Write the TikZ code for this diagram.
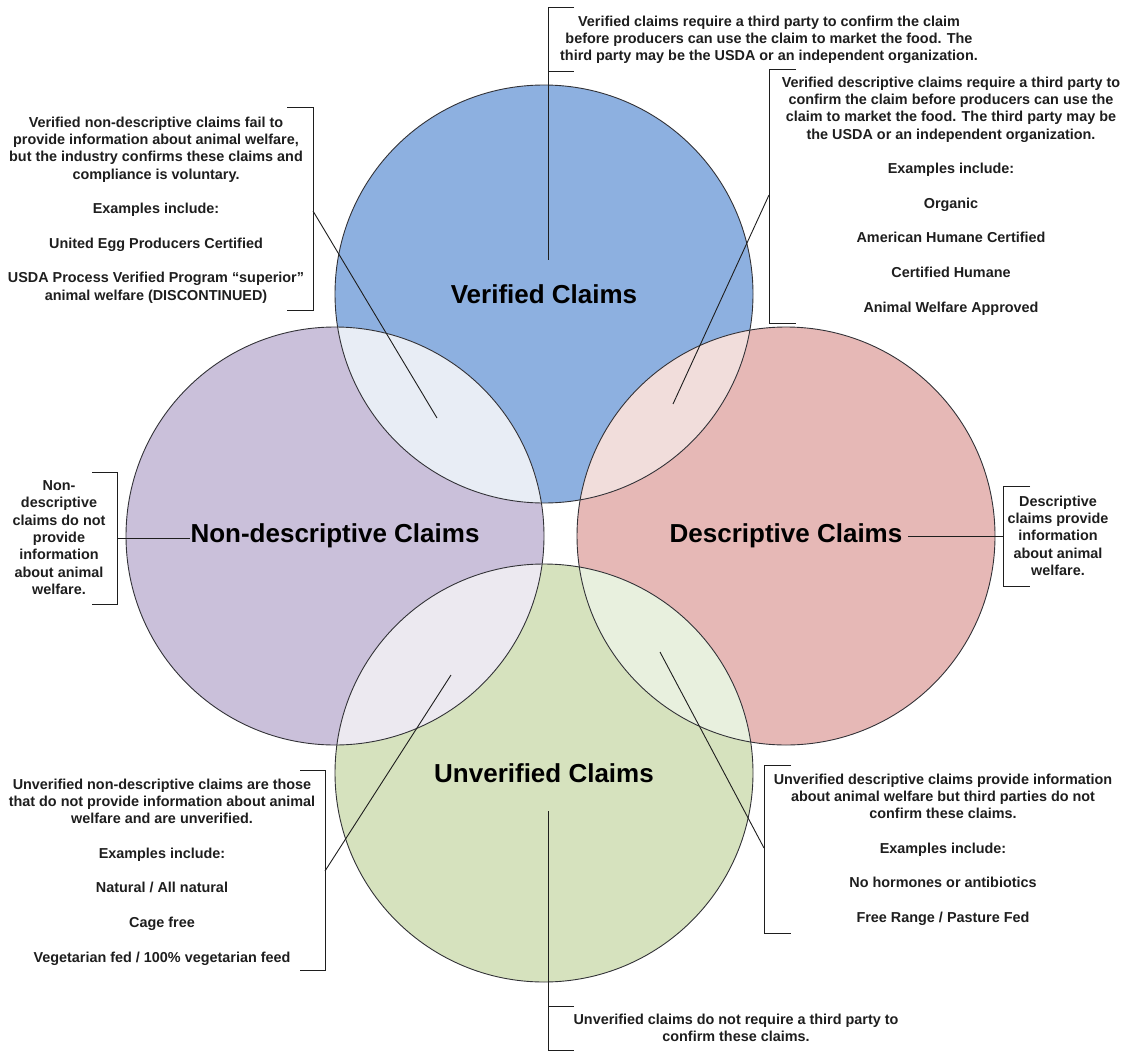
\documentclass[tikz,border=0pt]{standalone}
\usepackage{fontspec}
\setmainfont{Liberation Sans}
\usetikzlibrary{positioning}

\definecolor{vblue}{RGB}{141,176,224}
\definecolor{npurple}{RGB}{202,192,218}
\definecolor{dred}{RGB}{230,184,182}
\definecolor{ugreen}{RGB}{214,226,190}
\definecolor{vnmix}{RGB}{232,237,245}
\definecolor{vdmix}{RGB}{241,221,219}
\definecolor{unmix}{RGB}{236,233,240}
\definecolor{udmix}{RGB}{232,240,222}
\definecolor{ink}{RGB}{30,30,30}
\definecolor{rim}{RGB}{50,50,55}

\tikzset{
  note/.style={font=\bfseries\fontsize{14.4}{17.3}\selectfont,align=center,inner sep=0pt,anchor=north,text=ink},
  claimtitle/.style={font=\bfseries\fontsize{26}{30}\selectfont,inner sep=0pt,text=black},
  ring/.style={draw=rim,line width=0.9pt},
  callout/.style={draw=ink,line width=0.9pt},
}

\begin{document}
\begin{tikzpicture}[x=1pt,y=-1pt]
        \useasboundingbox (0,0) rectangle (1126,1051);
        \coordinate (vc) at (544,294);
        \coordinate (nc) at (335,536);
        \coordinate (dc) at (786,536);
        \coordinate (uc) at (544,773);
        \fill[vblue]   (vc) circle[radius=209pt];
        \fill[npurple] (nc) circle[radius=209pt];
        \fill[dred]    (dc) circle[radius=209pt];
        \fill[ugreen]  (uc) circle[radius=209pt];
        \begin{scope}
            \clip (vc) circle[radius=209pt];
            \fill[vnmix] (nc) circle[radius=209pt];
            \fill[vdmix] (dc) circle[radius=209pt];
        \end{scope}
        \begin{scope}
            \clip (uc) circle[radius=209pt];
            \fill[unmix] (nc) circle[radius=209pt];
            \fill[udmix] (dc) circle[radius=209pt];
        \end{scope}
        \foreach \c in {vc,nc,dc,uc} \draw[ring] (\c) circle[radius=209pt];
        \node[claimtitle] (vtitle) at (vc) {Verified Claims};
        \node[claimtitle] (ntitle) at (nc) {Non-descriptive Claims};
        \node[claimtitle] (dtitle) at (dc) {Descriptive Claims};
        \node[claimtitle] (utitle) at (uc) {Unverified Claims};

        \node[note] (vnote) at (769,15.5) {Verified claims require a third party to confirm the claim\\before producers can use the claim to market the food. The\\third party may be the USDA or an independent organization.};
        \node[note] (vdnote) at (951,76.5) {Verified descriptive claims require a third party to\\confirm the claim before producers can use the\\claim to market the food. The third party may be\\the USDA or an independent organization.\\[17.3pt]Examples include:\\[17.3pt]Organic\\[17.3pt]American Humane Certified\\[17.3pt]Certified Humane\\[17.3pt]Animal Welfare Approved};
        \node[note] (vndnote) at (156,116.5) {Verified non-descriptive claims fail to\\provide information about animal welfare,\\but the industry confirms these claims and\\compliance is voluntary.\\[17.3pt]Examples include:\\[17.3pt]United Egg Producers Certified\\[17.3pt]USDA Process Verified Program “superior”\\animal welfare (DISCONTINUED)};
        \node[note] (ndnote) at (59,480.5) {Non-\\descriptive\\claims do not\\provide\\information\\about animal\\welfare.};
        \node[note] (dnote) at (1058,495.5) {Descriptive\\claims provide\\information\\about animal\\welfare.};
        \node[note] (undnote) at (162,778.5) {Unverified non-descriptive claims are those\\that do not provide information about animal\\welfare and are unverified.\\[17.3pt]Examples include:\\[17.3pt]Natural / All natural\\[17.3pt]Cage free\\[17.3pt]Vegetarian fed / 100\% vegetarian feed};
        \node[note] (udnote) at (943,773.5) {Unverified descriptive claims provide information\\about animal welfare but third parties do not\\confirm these claims.\\[17.3pt]Examples include:\\[17.3pt]No hormones or antibiotics\\[17.3pt]Free Range / Pasture Fed};
        \node[note] (unote) at (736,1013.5) {Unverified claims do not require a third party to\\confirm these claims.};

        \coordinate (vbr)   at (548,71);
        \coordinate (vtip)  at (548,260);
        \coordinate (vdbr)  at (769,195);
        \coordinate (vdtip) at (673,404);
        \coordinate (vndbr) at (313,211);
        \coordinate (vndtip) at (437,418);
        \coordinate (ndbr)  at (117,538);
        \coordinate (dbr)   at (1003,536);
        \coordinate (undbr) at (325,871);
        \coordinate (undtip) at (451,675);
        \coordinate (udbr)  at (764,848);
        \coordinate (udtip) at (660,652);
        \coordinate (ubr)   at (548,1006);
        \coordinate (utip)  at (548,811);

        \draw[callout] (574,7) -- (548,7) |- (574,71);
        \draw[callout] (796,69) -- (769,69) |- (796,323);
        \draw[callout] (287,107) -- (313,107) |- (287,310);
        \draw[callout] (92,472) -- (117,472) |- (92,604);
        \draw[callout] (1030,486) -- (1003,486) |- (1030,586);
        \draw[callout] (300,770) -- (325,770) |- (300,970);
        \draw[callout] (791,765) -- (764,765) |- (791,933);
        \draw[callout] (574,1006) -- (548,1006) |- (574,1050);

        \draw[callout] (vbr)   -- (vtip);
        \draw[callout] (vdbr)  -- (vdtip);
        \draw[callout] (vndbr) -- (vndtip);
        \draw[callout] (ndbr)  -- (ndbr -| ntitle.west);
        \draw[callout,shorten >=5pt] (dbr) -- (dbr -| dtitle.east);
        \draw[callout] (undbr) -- (undtip);
        \draw[callout] (udbr)  -- (udtip);
        \draw[callout] (ubr)   -- (utip);
\end{tikzpicture}
\end{document}
